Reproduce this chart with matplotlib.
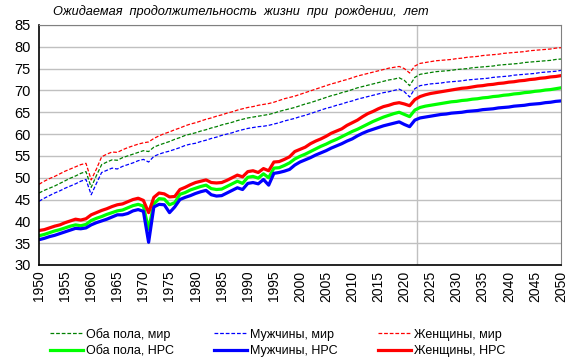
import numpy as np
import matplotlib
matplotlib.use('Agg')
import matplotlib.pyplot as plt

plt.rcParams['font.family'] = ['Liberation Sans', 'DejaVu Sans']

# годы 1950-2050
years = np.arange(1950, 2051)
year_ticks = list(range(1950, 2051, 5))

# мир, женщины
fem_world = [48.5, 49.2, 49.8, 50.3, 50.9, 51.5, 52.0, 52.5, 53.0, 53.3,
             49.5, 52.0, 54.8, 55.4, 55.9, 55.8, 56.4, 56.9, 57.3, 57.7,
             58.0, 58.2, 59.0, 59.6, 60.1, 60.5, 61.0, 61.4, 61.9, 62.3,
             62.6, 63.0, 63.4, 63.7, 64.1, 64.4, 64.8, 65.1, 65.5, 65.8,
             66.1, 66.3, 66.6, 66.8, 67.0, 67.3, 67.7, 68.1, 68.4, 68.7,
             69.1, 69.5, 69.9, 70.3, 70.7, 71.1, 71.5, 71.8, 72.2, 72.5,
             72.9, 73.3, 73.6, 73.9, 74.2, 74.5, 74.8, 75.1, 75.3, 75.5,
             75.0, 74.0, 75.6, 76.2, 76.4, 76.6, 76.8, 76.9, 77.0, 77.1,
             77.3, 77.4, 77.6, 77.7, 77.8, 78.0, 78.1, 78.2, 78.3, 78.5,
             78.6, 78.7, 78.8, 78.9, 79.1, 79.2, 79.3, 79.4, 79.5, 79.7,
             79.8]
# мир, оба пола
both_world = [46.5, 47.1, 47.6, 48.1, 48.7, 49.3, 49.9, 50.4, 51.0, 51.4,
              47.8, 50.5, 53.0, 53.6, 54.1, 54.0, 54.6, 55.0, 55.4, 55.8,
              56.2, 56.0, 57.0, 57.5, 57.9, 58.3, 58.8, 59.2, 59.7, 60.0,
              60.3, 60.7, 61.0, 61.4, 61.7, 62.1, 62.4, 62.7, 63.1, 63.4,
              63.7, 63.9, 64.1, 64.3, 64.5, 64.8, 65.2, 65.5, 65.8, 66.1,
              66.5, 66.9, 67.2, 67.6, 68.0, 68.4, 68.8, 69.1, 69.5, 69.8,
              70.2, 70.6, 70.9, 71.2, 71.5, 71.8, 72.1, 72.4, 72.6, 72.9,
              72.3, 71.1, 73.0, 73.7, 73.9, 74.1, 74.3, 74.4, 74.5, 74.6,
              74.8, 74.9, 75.0, 75.2, 75.3, 75.4, 75.5, 75.6, 75.8, 75.9,
              76.0, 76.1, 76.2, 76.4, 76.5, 76.6, 76.7, 76.8, 76.9, 77.1,
              77.2]
# мир, мужчины
male_world = [44.6, 45.3, 45.9, 46.5, 47.0, 47.6, 48.1, 48.6, 49.2, 49.6,
              46.1, 48.7, 51.2, 51.7, 52.2, 52.0, 52.6, 53.0, 53.4, 53.9,
              54.2, 53.6, 54.9, 55.4, 55.8, 56.1, 56.5, 56.9, 57.4, 57.7,
              57.9, 58.3, 58.6, 59.0, 59.3, 59.7, 60.0, 60.3, 60.7, 61.0,
              61.3, 61.5, 61.7, 61.8, 62.0, 62.3, 62.6, 63.0, 63.3, 63.6,
              64.0, 64.3, 64.7, 65.1, 65.5, 65.9, 66.2, 66.6, 66.9, 67.3,
              67.6, 68.0, 68.3, 68.6, 68.9, 69.2, 69.5, 69.7, 70.0, 70.3,
              69.7, 68.5, 70.4, 71.1, 71.3, 71.5, 71.6, 71.7, 71.9, 72.0,
              72.1, 72.2, 72.4, 72.5, 72.6, 72.7, 72.8, 73.0, 73.1, 73.2,
              73.3, 73.5, 73.6, 73.7, 73.8, 73.9, 74.1, 74.2, 74.3, 74.4,
              74.6]
# НРС, женщины
fem_nrs = [37.9, 38.1, 38.5, 38.9, 39.2, 39.7, 40.1, 40.5, 40.3, 40.6,
           41.5, 42.0, 42.5, 42.9, 43.4, 43.8, 44.0, 44.5, 45.0, 45.3,
           44.8, 42.0, 45.5, 46.5, 46.3, 45.6, 45.7, 47.3, 47.8, 48.4,
           48.9, 49.2, 49.5, 48.9, 48.8, 48.9, 49.4, 50.0, 50.6, 50.2,
           51.4, 51.6, 51.2, 52.1, 51.6, 53.6, 53.7, 54.2, 54.8, 56.0,
           56.5, 57.0, 57.8, 58.4, 58.9, 59.5, 60.2, 60.7, 61.2, 62.0,
           62.6, 63.2, 64.0, 64.7, 65.2, 65.8, 66.3, 66.6, 67.0, 67.2,
           66.9, 66.5, 67.9, 68.6, 69.0, 69.3, 69.5, 69.7, 69.9, 70.1,
           70.3, 70.5, 70.6, 70.8, 71.0, 71.1, 71.3, 71.4, 71.6, 71.7,
           71.9, 72.0, 72.2, 72.3, 72.5, 72.6, 72.8, 72.9, 73.1, 73.2,
           73.4]
# НРС, оба пола
both_nrs = [36.7, 37.0, 37.4, 37.8, 38.1, 38.5, 38.9, 39.2, 39.0, 39.3,
            40.2, 40.7, 41.1, 41.6, 42.0, 42.4, 42.6, 43.1, 43.6, 43.9,
            43.5, 38.2, 44.0, 45.2, 45.1, 43.8, 44.3, 46.2, 46.6, 47.2,
            47.6, 48.0, 48.3, 47.5, 47.3, 47.4, 48.0, 48.6, 49.2, 48.7,
            50.1, 50.3, 49.9, 50.9, 50.0, 52.2, 52.3, 52.8, 53.4, 54.3,
            54.9, 55.4, 56.0, 56.6, 57.2, 57.7, 58.3, 58.8, 59.4, 60.0,
            60.6, 61.1, 61.7, 62.3, 62.9, 63.4, 63.9, 64.3, 64.7, 65.0,
            64.5, 64.0, 65.5, 66.1, 66.4, 66.6, 66.8, 67.0, 67.2, 67.4,
            67.5, 67.7, 67.8, 68.0, 68.1, 68.3, 68.4, 68.6, 68.7, 68.9,
            69.0, 69.2, 69.3, 69.5, 69.6, 69.8, 69.9, 70.1, 70.2, 70.4,
            70.6]
# НРС, мужчины
male_nrs = [35.8, 36.1, 36.5, 36.8, 37.2, 37.6, 38.0, 38.4, 38.3, 38.5,
            39.2, 39.7, 40.1, 40.5, 41.0, 41.5, 41.5, 41.8, 42.4, 42.7,
            42.3, 35.2, 43.3, 43.9, 43.8, 42.0, 43.3, 45.0, 45.5, 45.9,
            46.4, 46.8, 47.1, 46.1, 45.8, 45.9, 46.5, 47.1, 47.7, 47.3,
            48.7, 48.9, 48.6, 49.6, 48.3, 51.0, 51.2, 51.5, 51.9, 52.9,
            53.6, 54.1, 54.6, 55.2, 55.7, 56.2, 56.8, 57.3, 57.8, 58.4,
            58.9, 59.6, 60.2, 60.7, 61.1, 61.5, 61.9, 62.2, 62.5, 62.8,
            62.2, 61.7, 63.2, 63.7, 63.9, 64.1, 64.3, 64.5, 64.6, 64.8,
            64.9, 65.0, 65.2, 65.3, 65.4, 65.6, 65.7, 65.8, 66.0, 66.1,
            66.2, 66.4, 66.5, 66.6, 66.8, 66.9, 67.0, 67.2, 67.3, 67.5,
            67.6]

fig = plt.figure(figsize=(5.75, 3.62), dpi=100)
ax = fig.add_axes([39/575, 1 - 265/362, (561 - 39)/575, (265 - 25)/362])

ax.set_axisbelow(True)
ax.yaxis.grid(True, color='#C0C0C0', lw=1)
ax.axvline(2022.4, color='#C0C0C0', lw=1, zorder=1)

dash = (0, (3, 1.5))
l1, = ax.plot(years, both_world, color='#008000', lw=0.9, ls=dash)
l2, = ax.plot(years, male_world, color='#0000FF', lw=0.9, ls=dash)
l3, = ax.plot(years, fem_world, color='#FF0000', lw=0.9, ls=dash)
l4, = ax.plot(years, both_nrs, color='#00FF00', lw=2.3)
l5, = ax.plot(years, male_nrs, color='#0000FF', lw=2.3)
l6, = ax.plot(years, fem_nrs, color='#FF0000', lw=2.3)

ax.set_xlim(1950, 2050)
ax.set_ylim(30, 85)
ax.set_yticks(range(30, 86, 5))
ax.set_xticks(year_ticks, [str(y) for y in year_ticks], rotation=90, fontsize=10)
ax.tick_params(axis='x', length=0, pad=4)
ax.tick_params(axis='y', length=0, labelsize=10.5, pad=6)

for s in ['top', 'right']:
    ax.spines[s].set_color('#808080')
for s in ['left', 'bottom']:
    ax.spines[s].set_color('black')
    ax.spines[s].set_linewidth(1.2)

fig.text(53/575, 1 - 12/362, 'Ожидаемая  продолжительность  жизни  при  рождении,  лет',
         fontsize=9.2, style='italic', va='center', ha='left')

handles = [l1, l4, l2, l5, l3, l6]
labels = ['Оба пола, мир', 'Оба пола, НРС', 'Мужчины, мир', 'Мужчины, НРС',
          'Женщины, мир', 'Женщины, НРС']
fig.legend(handles, labels, ncol=3, loc='lower left',
           bbox_to_anchor=(45/575, 0), frameon=False, fontsize=9,
           handlelength=2.6, handletextpad=0.3, columnspacing=3.2,
           labelspacing=0.35, borderaxespad=0)

fig.savefig('out.png', dpi=100)
